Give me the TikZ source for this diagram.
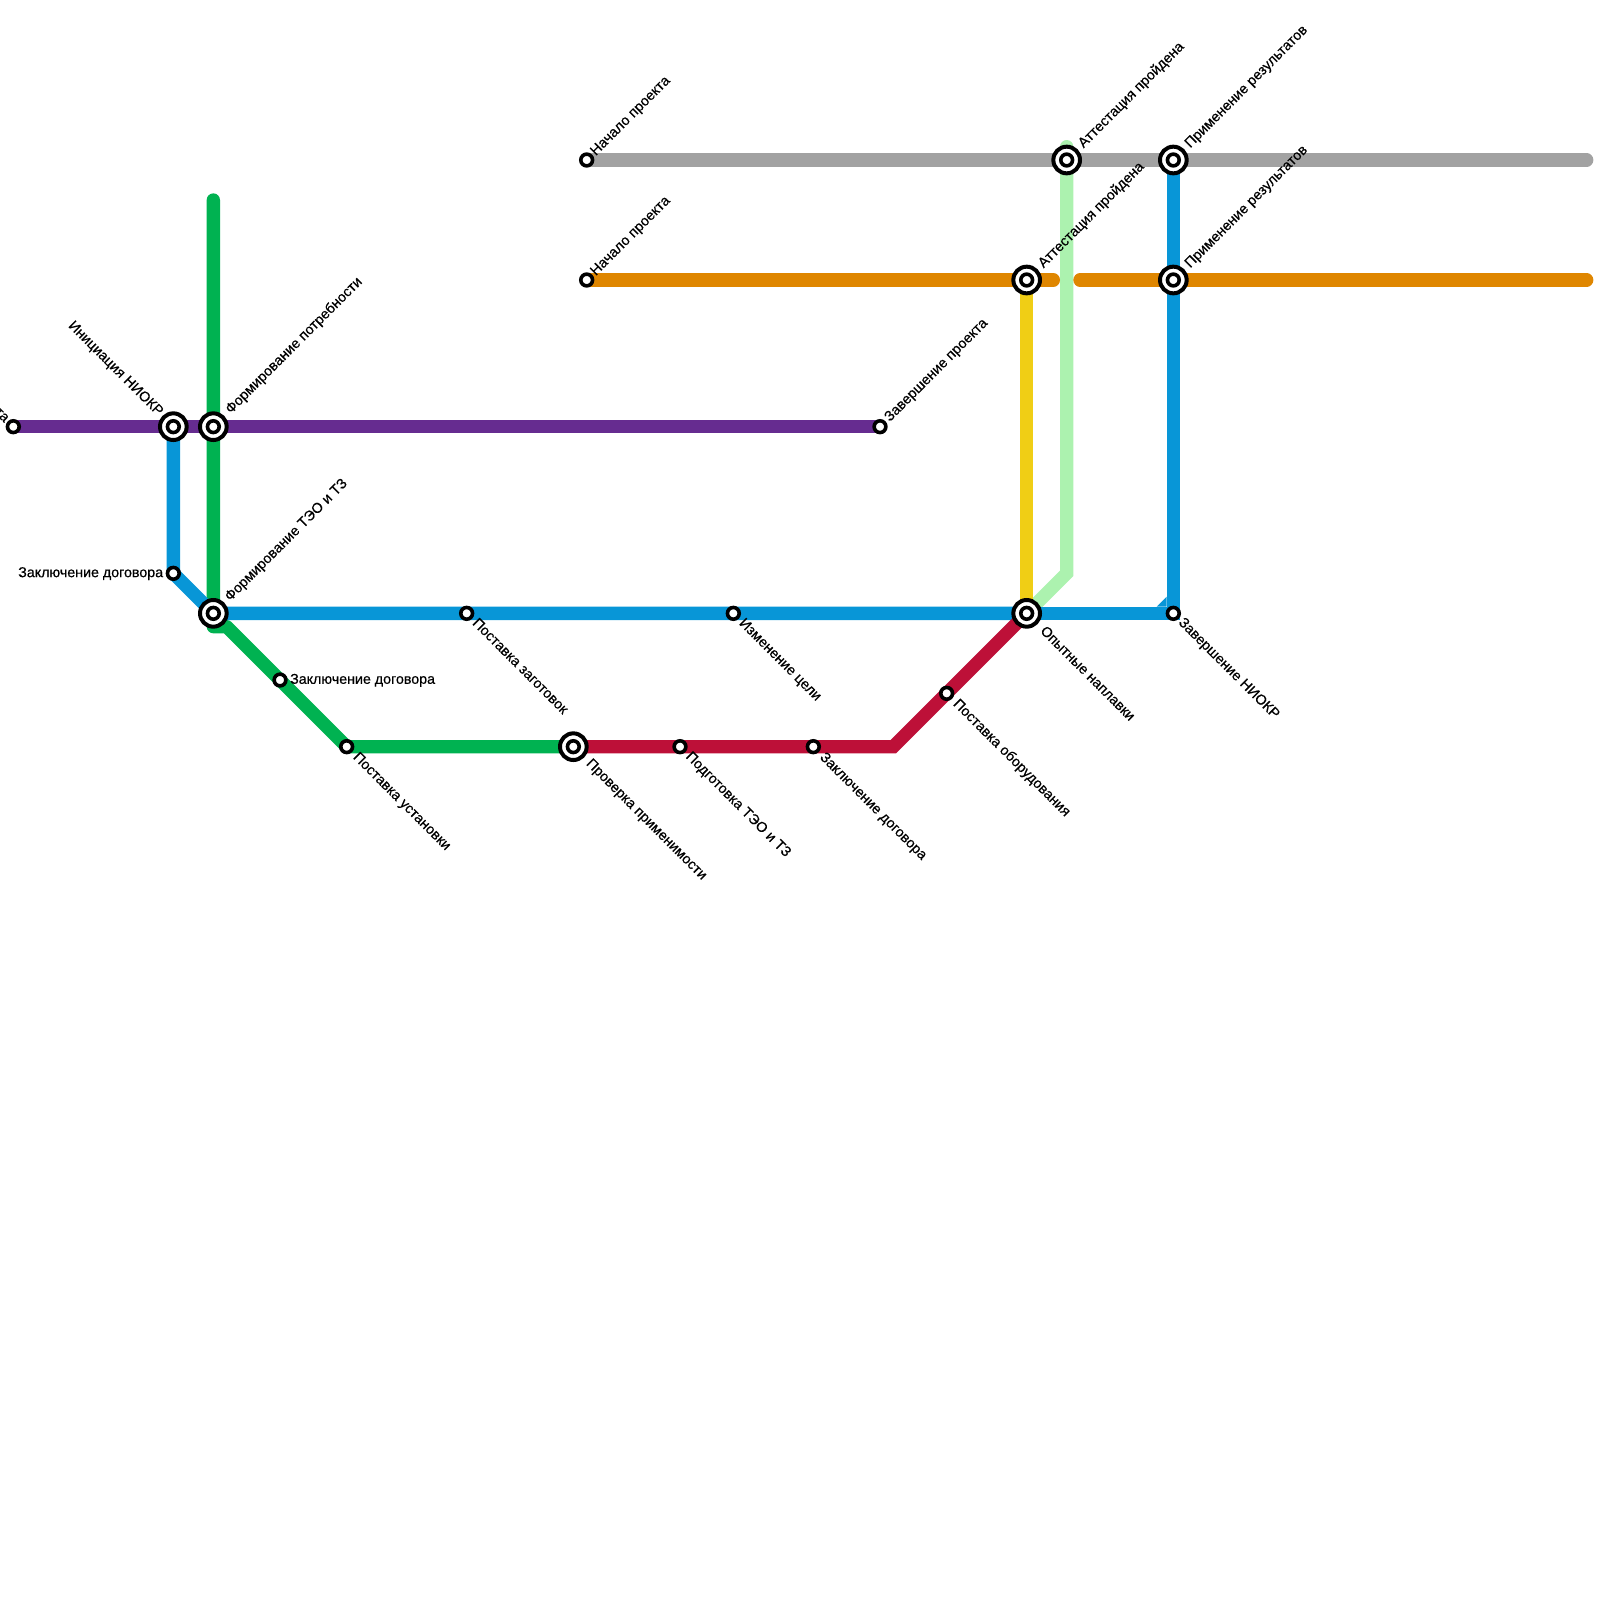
\documentclass[tikz,border=0pt]{standalone}
\usepackage{fontspec}
\setmainfont[FakeBold=0.4]{Liberation Sans}
\usetikzlibrary{backgrounds}
\definecolor{cpurple}{HTML}{662C90}
\definecolor{cblue}{HTML}{0896D7}
\definecolor{cgreen}{HTML}{00B251}
\definecolor{cred}{HTML}{BD1038}
\definecolor{corange}{HTML}{DF8600}
\definecolor{cyellow}{HTML}{F0CE15}
\definecolor{clight}{HTML}{ACF2AF}
\definecolor{cgray}{HTML}{A2A2A2}
\tikzset{
 x=0.5cm,y=-0.5cm,
 route/.style={line width=0.5cm,line cap=round,line join=miter},
 stop/.style={circle,draw=black,fill=white,line width=0.135cm,minimum size=0.44cm,inner sep=0,outer sep=0},
 hubring/.style={circle,draw=black,fill=white,line width=0.15cm,minimum size=1.0cm,inner sep=0,outer sep=0},
 lab/.style={text=black,font=\fontsize{15.2pt}{18pt}\selectfont,inner sep=0,text height=11.5pt,text depth=3.4pt},
 lne/.style={shift={(45:#1*0.0375cm)},lab,anchor=west,rotate=45},
 lse/.style={shift={(-45:#1*0.0375cm)},lab,anchor=west,rotate=-45},
 lnw/.style={shift={(135:#1*0.0375cm)},lab,anchor=east,rotate=-45},
 lw/.style={lab,anchor=east,xshift=-#1*0.0375cm},
 le/.style={lab,anchor=west,xshift=#1*0.0375cm},
}
\newcommand{\hubstop}[2]{\node[hubring] (#1) at (#2) {}; \node[stop] (#1in) at (#1) {};}
\begin{document}
\begin{tikzpicture}
\useasboundingbox (0,0) rectangle (120,120);
% stations
\node[stop] (pstart) at (1,32) {};
\hubstop{init}{13,32}
\hubstop{need}{16,32}
\node[stop] (pend) at (66,32) {};
\node[stop] (bcontract) at (13,43) {};
\hubstop{teo}{16,46}
\node[stop] (blanks) at (35,46) {};
\node[stop] (goal) at (55,46) {};
\hubstop{melt}{77,46}
\node[stop] (bend) at (88,46) {};
\node[stop] (gcontract) at (21,51) {};
\node[stop] (plant) at (26,56) {};
\hubstop{apply}{43,56}
\node[stop] (prep) at (51,56) {};
\node[stop] (rcontract) at (61,56) {};
\node[stop] (equip) at (71,52) {};
\node[stop] (ostart) at (44,21) {};
\hubstop{oatt}{77,21}
\hubstop{ouse}{88,21}
\node[stop] (gstart) at (44,12) {};
\hubstop{gatt}{80,12}
\hubstop{guse}{88,12}
% free route ends and bends
\coordinate (gtop) at (16,15);
\coordinate (gb1) at (16,47);
\coordinate (gb2) at (17,47);
\coordinate (rb) at (67,56);
\coordinate (oe1) at (79,21);
\coordinate (os2) at (81,21);
\coordinate (oe2) at (119,21);
\coordinate (gre) at (119,12);
\coordinate (ltop) at (80,11);
\coordinate (lb) at (80,43);
\coordinate (bc1) at (86.75,45.5);
\coordinate (bc2) at (87.5,44.75);
\coordinate (bc3) at (87.5,45.5);
% routes
\begin{scope}[on background layer]
\draw[route,cgray] (gstart.center) -- (gatt.center) -- (guse.center) -- (gre);
\draw[route,clight] (ltop) -- (lb) -- (melt.center);
\draw[cblue,line width=0.5cm,line cap=butt,line join=miter] (guse.center) -- (ouse.center) -- (bend.center) -- (melt.center);
\draw[route,cyellow] (oatt.center) -- (melt.center);
\draw[route,corange] (ostart.center) -- (oatt.center) -- (oe1);
\draw[route,corange] (os2) -- (ouse.center) -- (oe2);
\draw[route,cgreen,line join=round] (gtop) -- (gb1) -- (gb2) -- (gcontract.center) -- (plant.center) -- (apply.center);
\draw[route,cpurple] (pstart.center) -- (init.center) -- (need.center) -- (pend.center);
\draw[route,cblue] (init.center) -- (bcontract.center) -- (teo.center) -- (blanks.center) -- (goal.center) -- (melt.center);
\fill[cblue] (bc1) -- (bc2) -- (bc3) -- cycle;
\draw[route,cred] (apply.center) -- (prep.center) -- (rcontract.center) -- (rb) -- (equip.center) -- (melt.center);
\end{scope}
% labels
\node[lnw=9] (t1) at (pstart) {Начало проекта};
\node[lnw=18] (t2) at (init) {Инициация НИОКР};
\node[lne=21] (t3) at (need) {Формирование потребности};
\node[lne=10] (t4) at (pend) {Завершение проекта};
\node[lw=10] (t5) at (bcontract) {Заключение договора};
\node[lne=20] (t6) at (teo) {Формирование ТЭО и ТЗ};
\node[lse=11] (t7) at (blanks) {Поставка заготовок};
\node[lse=11] (t8) at (goal) {Изменение цели};
\node[lse=22] (t9) at (melt) {Опытные наплавки};
\node[lse=10] (t10) at (bend) {Завершение НИОКР};
\node[le=10] (t11) at (gcontract) {Заключение договора};
\node[lse=12] (t12) at (plant) {Поставка установки};
\node[lse=21] (t13) at (apply) {Проверка применимости};
\node[lse=11] (t14) at (prep) {Подготовка ТЭО и ТЗ};
\node[lse=12] (t15) at (rcontract) {Заключение договора};
\node[lse=12] (t16) at (equip) {Поставка оборудования};
\node[lne=9] (t17) at (ostart) {Начало проекта};
\node[lne=20] (t18) at (oatt) {Аттестация пройдена};
\node[lne=20] (t19) at (ouse) {Применение результатов};
\node[lne=9] (t20) at (gstart) {Начало проекта};
\node[lne=20] (t21) at (gatt) {Аттестация пройдена};
\node[lne=20] (t22) at (guse) {Применение результатов};
\end{tikzpicture}
\end{document}
